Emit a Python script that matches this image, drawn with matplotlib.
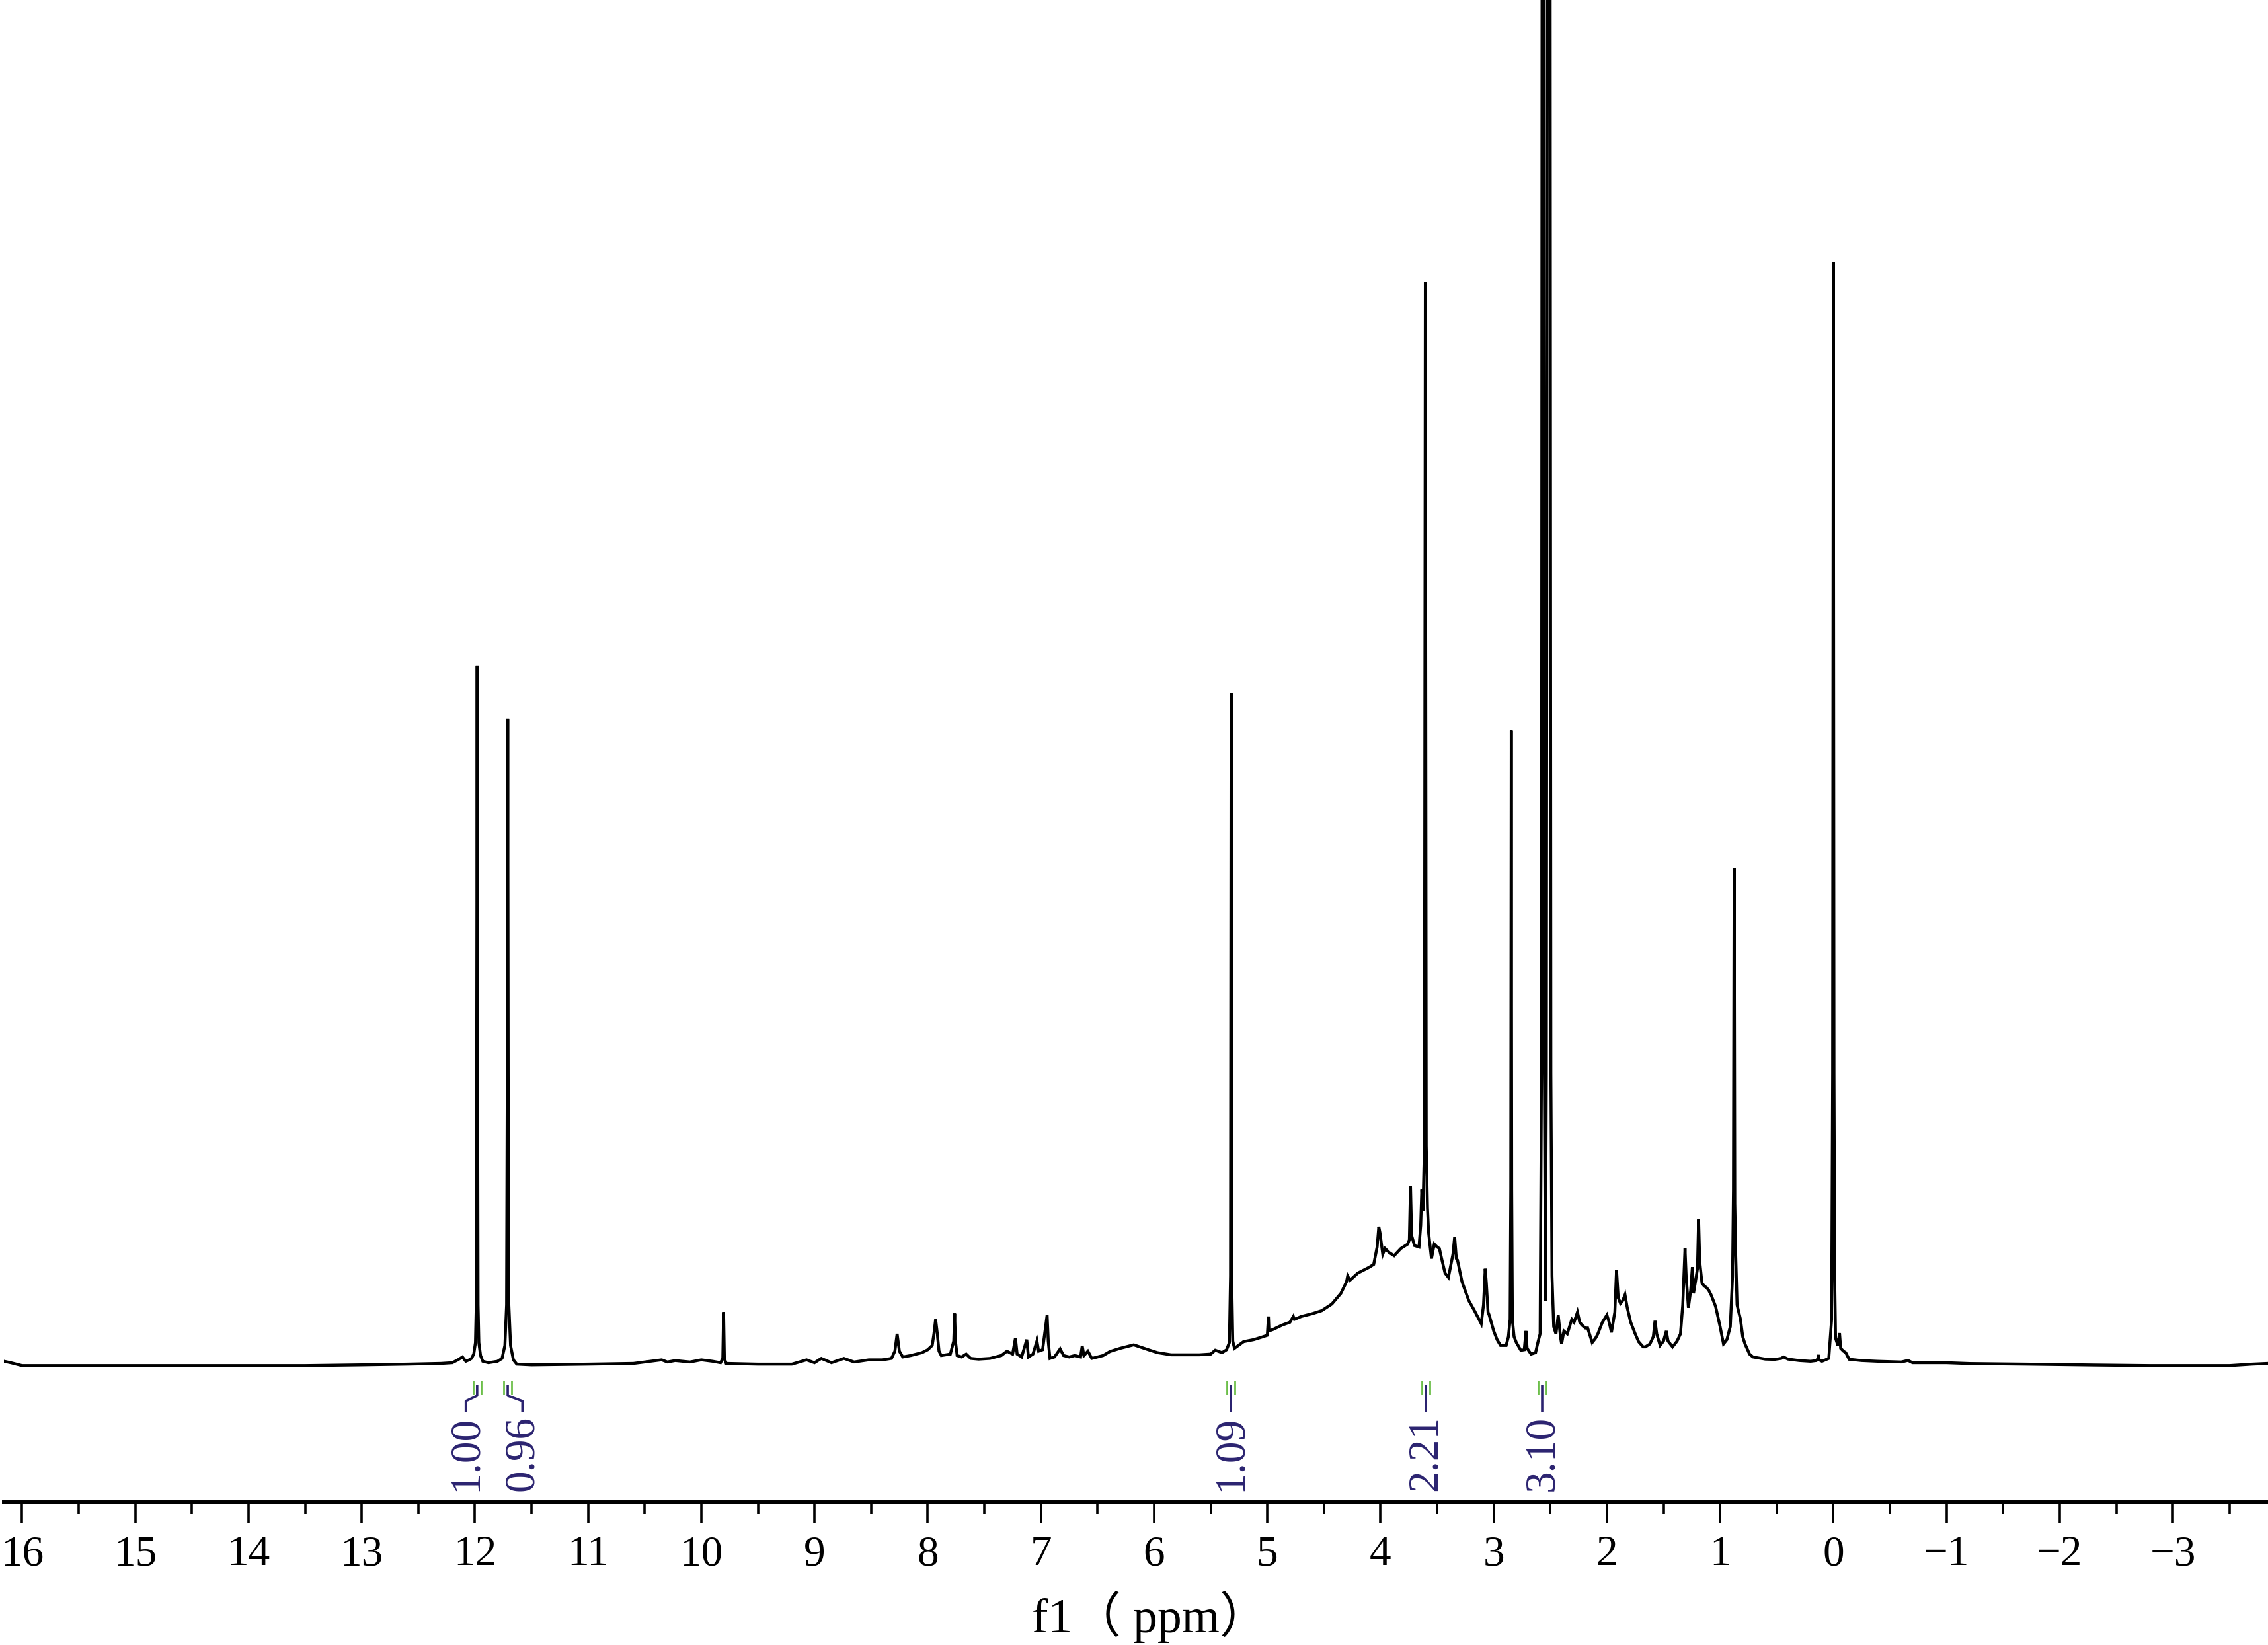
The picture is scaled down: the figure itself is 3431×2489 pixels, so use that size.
import matplotlib
matplotlib.use('Agg')
import matplotlib.pyplot as plt
from matplotlib.ticker import MultipleLocator

# 1H NMR trace: chemical shift (ppm) and intensity (a.u., baseline = 0)
shift_ppm = [
    16.16, 16.1, 16.0, 15.5, 15.0, 14.5, 14.0, 13.5, 13.0, 12.6, 12.3, 12.2, 12.15, 12.11, 12.08, 12.05,
    12.03, 12.01, 11.995, 11.988, 11.984, 11.98, 11.976, 11.972, 11.965, 11.95, 11.93, 11.88, 11.80,
    11.76, 11.735, 11.72, 11.714, 11.71, 11.706, 11.70, 11.685, 11.66, 11.63, 11.5, 11.0, 10.6, 10.5,
    10.35, 10.3, 10.23, 10.1, 10.0, 9.9, 9.83, 9.81, 9.803, 9.796, 9.78, 9.5, 9.2, 9.07, 9.0, 8.94,
    8.85, 8.74, 8.65, 8.52, 8.4, 8.32, 8.29, 8.27, 8.25, 8.22, 8.15, 8.05, 8.00, 7.96, 7.945, 7.93,
    7.915, 7.90, 7.88, 7.80, 7.77, 7.762, 7.755, 7.74, 7.70, 7.66, 7.62, 7.55, 7.45, 7.35, 7.30, 7.25,
    7.225, 7.21, 7.17, 7.125, 7.11, 7.07, 7.035, 7.02, 6.985, 6.945, 6.935, 6.92, 6.88, 6.83, 6.80,
    6.75, 6.70, 6.65, 6.635, 6.62, 6.585, 6.55, 6.45, 6.39, 6.3, 6.18, 6.05, 5.97, 5.85, 5.76, 5.6,
    5.50, 5.46, 5.40, 5.36, 5.335, 5.325, 5.32, 5.315, 5.305, 5.29, 5.26, 5.21, 5.12, 5.05, 5.00,
    4.99, 4.985, 4.95, 4.87, 4.80, 4.77, 4.76, 4.70, 4.60, 4.52, 4.43, 4.35, 4.30, 4.29, 4.27, 4.20,
    4.10, 4.06, 4.03, 4.015, 4.005, 3.98, 3.96, 3.92, 3.88, 3.82, 3.76, 3.745, 3.735, 3.725, 3.70,
    3.66, 3.645, 3.635, 3.625, 3.612, 3.604, 3.596, 3.585, 3.575, 3.55, 3.525, 3.50, 3.48, 3.46,
    3.43, 3.40, 3.36, 3.345, 3.33, 3.32, 3.28, 3.22, 3.17, 3.13, 3.11, 3.09, 3.075, 3.065, 3.05,
    3.04, 3.00, 2.97, 2.94, 2.89, 2.87, 2.855, 2.849, 2.845, 2.841, 2.835, 2.82, 2.80, 2.76, 2.73,
    2.715, 2.705, 2.67, 2.63, 2.61, 2.59, 2.578, 2.570, 2.560, 2.552, 2.543, 2.535, 2.520, 2.505,
    2.495, 2.485, 2.47, 2.45, 2.43, 2.41, 2.40, 2.38, 2.35, 2.31, 2.29, 2.26, 2.24, 2.22, 2.19, 2.17,
    2.13, 2.10, 2.08, 2.04, 2.00, 1.98, 1.96, 1.93, 1.915, 1.90, 1.88, 1.86, 1.84, 1.82, 1.79, 1.75,
    1.72, 1.68, 1.66, 1.62, 1.59, 1.575, 1.56, 1.53, 1.50, 1.475, 1.46, 1.42, 1.38, 1.35, 1.33, 1.31,
    1.30, 1.28, 1.26, 1.245, 1.235, 1.22, 1.20, 1.19, 1.18, 1.16, 1.14, 1.12, 1.10, 1.08, 1.04, 1.00,
    0.97, 0.94, 0.91, 0.89, 0.882, 0.876, 0.870, 0.862, 0.85, 0.82, 0.80, 0.78, 0.74, 0.71, 0.6,
    0.52, 0.46, 0.44, 0.40, 0.30, 0.20, 0.15, 0.135, 0.13, 0.125, 0.10, 0.04, 0.015, 0.006, 0.0,
    -0.006, -0.012, -0.02, -0.04, -0.055, -0.065, -0.09, -0.11, -0.14, -0.25, -0.39, -0.6, -0.66,
    -0.7, -1.0, -1.21, -1.7, -2.3, -2.8, -3.11, -3.5, -3.7, -3.84,
]
intensity = [
    1, 0, -2, -2, -2, -2, -2, -2, -1.5, -1, -0.5, 0, 2, 4, 1, 2,
    3, 6, 14, 40, 200, 482, 200, 40, 14, 5, 1, 0, 1,
    3, 12, 40, 200, 445, 200, 40, 12, 2, -1, -1.5, -1, -0.5, 0.5,
    2, 0.5, 1.5, 0.5, 2, 1, 0, 3, 35, 3, -0.5, -1, -1, 2, 0, 3,
    0, 3, 0.5, 2, 2, 3, 8, 20, 8, 4, 5, 7, 9, 12, 20, 30,
    20, 8, 5, 6, 15, 34, 15, 5, 4, 6, 3, 2.5, 3, 5, 8, 6,
    17, 6, 4, 16, 4, 6, 15, 8, 9, 33, 15, 3, 4, 9.6, 5,
    4, 5, 4, 11.7, 5, 8, 3, 5, 7.8, 10, 12.4, 9, 7, 5.5, 5.5, 5.5,
    6, 8.7, 7, 9, 14, 60, 463, 60, 15, 10, 11.7, 14.6, 16, 17.7, 19,
    32, 22, 23, 26, 28, 32, 30, 32, 34, 36, 40.6, 48, 56, 60, 57, 62,
    66, 68, 80, 94, 90, 75, 79, 76, 74, 79, 82, 85, 122, 88, 81,
    80, 95, 120, 105, 150, 747, 150, 107, 90, 72, 82, 80, 79, 72,
    62, 59, 75, 87, 72, 71, 56, 43, 36, 30, 27, 40, 65, 55, 35,
    33, 22, 16, 12, 12, 18, 30, 120, 437, 120, 30, 18, 14, 8.6, 9,
    22, 10, 6, 7, 14, 20, 200, 1400, 1400, 200, 43, 200, 1400, 1400,
    200, 60, 25, 20, 33, 18, 13, 22, 20, 30, 28, 35, 28, 26, 24, 24,
    14, 17, 20, 28, 33, 28, 21, 35, 64, 45, 41, 43, 47, 38, 28, 20,
    14.6, 11, 11, 13, 18, 29, 20, 12, 15, 22, 15, 11, 15, 20, 40, 79,
    60, 38, 50, 66, 48, 55, 65, 99, 70, 55, 53, 52, 50, 47, 39, 25,
    13, 16, 25, 60, 120, 342, 110, 74, 40, 30, 18, 13, 6, 4, 2.5,
    2.3, 3, 4, 2.5, 1.5, 1, 1.5, 3, 5.5, 2, 1, 3, 30, 200, 761,
    200, 60, 17, 12, 20.5, 10, 8, 7, 2.4, 1.5, 1, 0.5, 1.6,
    0, 0, -0.6, -1, -1.6, -2, -2, -2, -1, -0.5,
]

# integration marks under the trace
integral_mark_ppm = [11.98, 11.71, 5.32, 3.60, 2.57]
integral_text_ppm = [12.08, 11.58, 5.32, 3.60, 2.57]
integral_values = ['1.00', '0.96', '1.09', '2.21', '3.10']

navy = '#2b2370'
green = '#6cbf4a'
serif = 'Liberation Serif'

fig = plt.figure(figsize=(34.31, 24.89), dpi=100)
ax = fig.add_axes([6 / 3431, 0.0868, 1 - 6 / 3431, 0.9132])

ax.plot(shift_ppm, intensity, color='black', lw=3.2, solid_joinstyle='miter')

for mark, tx, val in zip(integral_mark_ppm, integral_text_ppm, integral_values):
    if abs(mark - tx) > 0.02:
        ax.plot([mark, mark, tx, tx], [-16, -22.8, -26.5, -33.3], color=navy, lw=2.6)
    else:
        ax.plot([mark, mark], [-16, -33.3], color=navy, lw=2.6)
    for dx in (-0.035, 0.035):
        ax.plot([mark + dx, mark + dx], [-12.8, -21.5], color=green, lw=2.0)
    ax.text(tx, -36.5, val, rotation=90, ha='center', va='top', color=navy,
            fontsize=47, family=serif)

ax.set_xlim(16.16, -3.84)
ax.set_ylim(-96.4, 942)

for s in ['left', 'right', 'top']:
    ax.spines[s].set_visible(False)
ax.spines['bottom'].set_linewidth(4.3)
ax.set_yticks([])
ax.xaxis.set_major_locator(MultipleLocator(1))
ax.xaxis.set_minor_locator(MultipleLocator(0.5))
ax.tick_params(axis='x', which='major', direction='out', length=23, width=2.6, pad=13,
               labelsize=47)
ax.tick_params(axis='x', which='minor', direction='out', length=13, width=2.6)
for lbl in ax.get_xticklabels():
    lbl.set_family(serif)

fig.text(1740 / 3431, (2489 - 2470) / 2489, 'f1（ ppm）', ha='center', va='baseline',
         fontsize=53, family=[serif, 'Noto Sans CJK SC'])

fig.savefig('out.png', dpi=100)
